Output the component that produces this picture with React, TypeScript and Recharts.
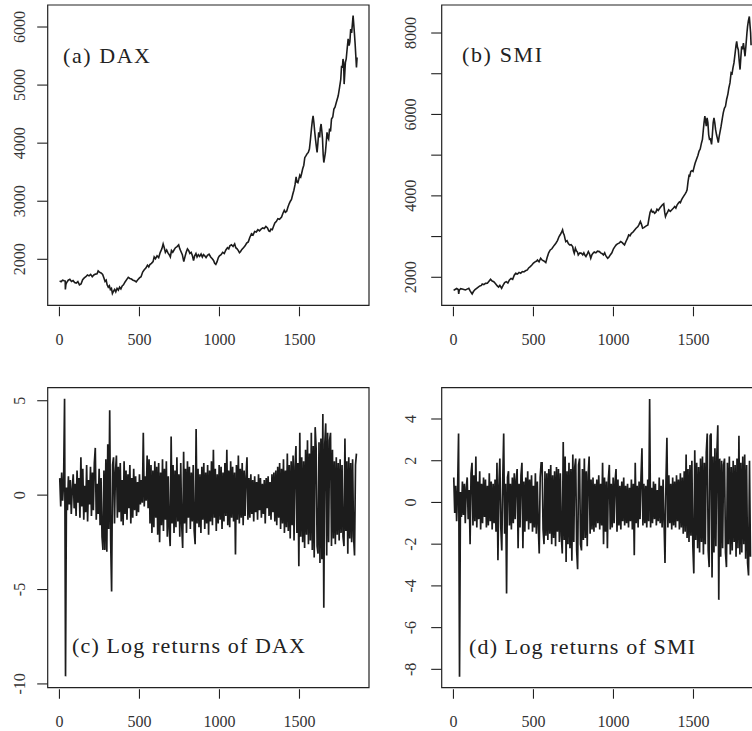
import React from 'react'
import { LineChart, Line, XAxis, YAxis, ReferenceArea } from 'recharts'

// tick values
const xTicks = [0, 500, 1000, 1500]
const daxPriceTicks = [2000, 3000, 4000, 5000, 6000]
const smiPriceTicks = [2000, 3000, 4000, 5000, 6000, 7000, 8000]
const smiPriceLabels = [2000, 4000, 6000, 8000]
const daxReturnTicks = [-10, -5, 0, 5]
const smiReturnTicks = [-8, -6, -4, -2, 0, 2, 4]

// [day index, index level]
const daxPrice: [number, number][] = [
  [1, 1628], [10, 1615], [20, 1640], [30, 1630], [36, 1625], [37, 1480], [40, 1560], [45, 1600], [55, 1640], [65, 1655],
  [75, 1620], [85, 1635], [95, 1600], [105, 1590], [115, 1615], [125, 1560], [135, 1575], [145, 1650], [155, 1680], [165, 1700],
  [175, 1730], [185, 1715], [195, 1740], [205, 1700], [215, 1730], [225, 1745], [235, 1750], [242, 1800], [250, 1780], [260, 1765],
  [270, 1740], [278, 1680], [285, 1620], [292, 1640], [298, 1560], [305, 1520], [312, 1545], [318, 1480], [325, 1500], [331, 1410],
  [338, 1450], [345, 1480], [352, 1440], [360, 1500], [368, 1470], [376, 1520], [384, 1490], [392, 1540], [400, 1560], [410, 1610],
  [420, 1650], [430, 1690], [440, 1670], [450, 1660], [460, 1640], [470, 1630], [480, 1610], [490, 1650], [500, 1680], [510, 1700],
  [520, 1780], [530, 1820], [540, 1850], [550, 1900], [558, 1870], [565, 1910], [575, 1930], [585, 1960], [592, 2040], [600, 2010],
  [610, 2060], [620, 2030], [630, 2120], [640, 2180], [648, 2265], [655, 2200], [662, 2120], [670, 2160], [678, 2110], [686, 2080],
  [693, 2040], [700, 2150], [708, 2120], [716, 2160], [725, 2200], [735, 2220], [745, 2250], [752, 2180], [760, 2130], [768, 2080],
  [777, 1960], [785, 2050], [792, 2120], [800, 2180], [808, 2150], [815, 2100], [823, 2120], [831, 2060], [838, 1980], [845, 2060],
  [853, 2100], [860, 2040], [868, 2080], [876, 2050], [885, 2090], [893, 2040], [900, 2080], [908, 2060], [916, 2030], [925, 2070],
  [935, 2090], [945, 2040], [955, 2010], [963, 1980], [970, 1930], [977, 1913], [985, 1960], [993, 2030], [1000, 2060], [1010, 2080],
  [1020, 2120], [1030, 2100], [1040, 2160], [1050, 2200], [1058, 2180], [1065, 2231], [1075, 2250], [1085, 2220], [1095, 2266], [1102, 2200],
  [1110, 2180], [1118, 2150], [1125, 2115], [1131, 2130], [1140, 2170], [1150, 2200], [1160, 2231], [1170, 2280], [1180, 2300], [1190, 2380],
  [1200, 2440], [1210, 2420], [1220, 2480], [1230, 2470], [1240, 2510], [1250, 2490], [1260, 2520], [1270, 2540], [1280, 2530], [1290, 2566],
  [1300, 2540], [1308, 2490], [1315, 2480], [1322, 2520], [1330, 2510], [1338, 2570], [1346, 2624], [1355, 2650], [1365, 2700], [1375, 2690],
  [1388, 2728], [1396, 2790], [1405, 2844], [1412, 2810], [1420, 2826], [1428, 2900], [1436, 2960], [1443, 3000], [1450, 3030], [1458, 3120],
  [1465, 3190], [1472, 3280], [1479, 3420], [1484, 3330], [1490, 3318], [1496, 3380], [1502, 3450], [1508, 3420], [1512, 3460], [1520, 3560],
  [1527, 3620], [1533, 3750], [1540, 3780], [1548, 3820], [1555, 3840], [1562, 3900], [1568, 4050], [1575, 4250], [1580, 4380], [1585, 4470],
  [1590, 4356], [1595, 4200], [1600, 4070], [1605, 3950], [1610, 3840], [1615, 4000], [1620, 4185], [1626, 4100], [1630, 4250], [1635, 4330],
  [1640, 4200], [1644, 4070], [1648, 3800], [1652, 3666], [1657, 3750], [1662, 3840], [1667, 4000], [1672, 4185], [1677, 4100], [1682, 4070],
  [1688, 4250], [1694, 4200], [1700, 4414], [1708, 4450], [1715, 4586], [1722, 4620], [1730, 4700], [1742, 4816], [1750, 4950], [1758, 5100],
  [1763, 5334], [1768, 5300], [1772, 5450], [1776, 5380], [1779, 5017], [1783, 5200], [1787, 5392], [1792, 5450], [1797, 5600], [1804, 5795],
  [1810, 5680], [1815, 5750], [1820, 5966], [1826, 5900], [1832, 6100], [1835, 6196], [1839, 6050], [1843, 5900], [1848, 5700], [1852, 5500],
  [1856, 5305], [1860, 5478],
]

const smiPrice: [number, number][] = [
  [1, 1678], [10, 1700], [20, 1725], [30, 1700], [33, 1590], [36, 1680], [45, 1720], [55, 1710], [65, 1700], [75, 1690],
  [85, 1710], [96, 1730], [105, 1660], [112, 1620], [117, 1590], [125, 1650], [135, 1700], [145, 1730], [155, 1760], [165, 1787],
  [175, 1800], [180, 1836], [190, 1820], [200, 1850], [212, 1852], [222, 1900], [232, 1950], [242, 1910], [252, 1893], [262, 1850],
  [274, 1787], [282, 1760], [290, 1800], [301, 1730], [310, 1800], [320, 1870], [330, 1893], [340, 1860], [350, 1934], [360, 1970],
  [370, 1950], [380, 2050], [389, 2098], [400, 2080], [410, 2120], [420, 2100], [430, 2140], [440, 2130], [450, 2160], [462, 2180],
  [470, 2230], [480, 2262], [490, 2300], [500, 2350], [510, 2380], [520, 2400], [525, 2426], [535, 2380], [545, 2467], [555, 2420],
  [565, 2400], [577, 2360], [585, 2480], [595, 2600], [605, 2672], [615, 2700], [625, 2760], [633, 2800], [640, 2836], [650, 2900],
  [660, 3000], [668, 3050], [675, 3100], [682, 3164], [687, 3080], [692, 3041], [697, 2950], [702, 2877], [710, 2900], [718, 2830],
  [726, 2795], [735, 2800], [745, 2754], [750, 2650], [755, 2590], [762, 2713], [768, 2650], [775, 2620], [780, 2549], [790, 2600],
  [800, 2590], [808, 2550], [815, 2600], [822, 2540], [828, 2508], [835, 2560], [843, 2631], [850, 2580], [858, 2467], [865, 2550],
  [872, 2590], [880, 2620], [890, 2600], [900, 2640], [912, 2631], [920, 2600], [930, 2580], [937, 2549], [945, 2600], [952, 2530],
  [958, 2500], [964, 2467], [972, 2500], [980, 2549], [990, 2600], [1000, 2700], [1010, 2760], [1017, 2795], [1025, 2820], [1035, 2840],
  [1045, 2877], [1055, 2850], [1062, 2820], [1069, 2795], [1078, 2880], [1088, 2960], [1095, 3041], [1103, 3020], [1112, 3082], [1120, 3100],
  [1130, 3150], [1140, 3200], [1153, 3246], [1160, 3300], [1168, 3369], [1175, 3300], [1182, 3205], [1190, 3220], [1200, 3250], [1208, 3270],
  [1215, 3287], [1222, 3450], [1229, 3600], [1236, 3656], [1243, 3600], [1250, 3615], [1257, 3574], [1265, 3600], [1272, 3673], [1280, 3640],
  [1290, 3700], [1300, 3750], [1306, 3780], [1314, 3804], [1320, 3600], [1325, 3492], [1332, 3560], [1338, 3600], [1345, 3656], [1355, 3620],
  [1365, 3660], [1375, 3700], [1383, 3738], [1390, 3700], [1398, 3780], [1405, 3820], [1412, 3850], [1418, 3830], [1425, 3902], [1432, 3950],
  [1440, 4000], [1448, 4050], [1455, 4100], [1460, 4148], [1466, 4350], [1472, 4500], [1477, 4490], [1483, 4600], [1490, 4620], [1497, 4600],
  [1503, 4694], [1510, 4800], [1519, 4898], [1528, 5000], [1535, 5102], [1542, 5150], [1550, 5300], [1556, 5388], [1561, 5600], [1566, 5800],
  [1571, 5959], [1575, 5850], [1580, 5714], [1585, 5918], [1590, 5800], [1595, 5500], [1600, 5388], [1606, 5400], [1613, 5265], [1618, 5500],
  [1623, 5796], [1628, 5918], [1633, 5800], [1638, 5633], [1644, 5500], [1650, 5400], [1655, 5306], [1660, 5450], [1665, 5551], [1672, 5700],
  [1680, 5900], [1686, 6040], [1693, 6150], [1700, 6200], [1707, 6367], [1715, 6500], [1721, 6650], [1728, 6775], [1735, 7020], [1741, 7000],
  [1747, 7150], [1753, 7265], [1760, 7500], [1766, 7700], [1770, 7795], [1775, 7650], [1780, 7591], [1786, 7300], [1791, 7102], [1796, 7400],
  [1801, 7673], [1806, 7600], [1812, 7754], [1817, 7600], [1822, 7428], [1828, 7700], [1834, 8000], [1838, 8162], [1843, 8300], [1849, 8407],
  [1853, 8200], [1857, 8000], [1860, 7700],
]

// log returns (%), one reading every returnStep days starting at day 2
const returnStep = 6
const daxReturns = [
  0.9, -0.6, 1.2, -0.3, 0.7, 5.1, -9.6, 0.4, -0.8, 1.0,
  -0.5, 0.8, -1.0, 0.3, 1.1, -0.7, 0.6, -1.1, 1.3, -0.4,
  0.9, -1.2, 2.0, -0.6, 1.4, -1.3, 0.5, -0.9, 1.6, -1.4,
  0.8, -0.5, 1.5, -1.1, 1.2, -0.8, 1.7, 2.5, -1.3, 0.6,
  -1.0, 1.4, -1.6, 0.9, -2.2, -2.9, 1.3, -2.9, 1.9, -3.0,
  2.7, -1.8, 4.5, -2.4, -5.1, 1.6, 2.0, -1.5, 1.2, 2.1,
  -1.2, 1.5, -0.9, 1.7, -1.4, 0.8, -1.6, 1.8, -1.0, 1.3,
  -1.3, 1.1, -0.7, 1.6, -1.5, 0.9, -1.2, 1.4, -0.8, 1.0,
  -1.1, 0.7, -0.9, 1.1, -0.5, 0.8, -0.4, 3.3, -0.6, 1.0,
  -0.3, 2.1, -0.7, 1.9, -1.5, 1.6, -2.0, 1.3, -1.7, 1.8,
  -1.2, 1.5, -2.1, 1.7, -2.5, 1.2, -1.6, 1.9, -1.9, 1.4,
  -1.3, 1.8, -2.2, 1.0, -1.8, -2.7, 3.1, -1.5, 1.6, -2.0,
  1.3, -1.7, 2.0, -1.4, 1.1, -2.2, 1.7, -1.6, -2.8, 2.3,
  -1.5, 1.4, -2.0, 1.8, -1.2, 1.5, -1.8, 1.2, -1.4, 1.6,
  -1.9, -2.6, 3.5, -1.5, 1.4, -1.7, 1.1, -2.0, 1.5, -1.3,
  1.7, -1.8, 1.2, -1.5, 1.6, -2.1, 1.3, -1.4, 1.8, -1.6,
  2.4, -1.2, 1.4, -1.9, 1.1, -1.5, 1.6, -1.3, 1.5, -1.8,
  1.2, -1.4, 1.7, -1.1, 2.4, -1.6, 1.3, -1.7, 1.8, -1.2,
  1.5, -1.4, 1.2, -3.15, 1.6, -1.3, 2.1, -1.5, 1.4, -1.2,
  1.7, -1.6, 1.3, -1.1, 1.0, 2.0, -1.3, 0.9, -1.2, 1.1,
  -1.0, 0.8, -1.4, 1.0, -0.9, 0.7, -1.3, 1.1, -0.8, 0.9,
  -1.2, 0.6, -1.0, 0.8, -1.5, 0.9, -0.7, 1.0, -1.1, 0.7,
  -1.3, 1.1, -0.9, 1.2, -1.4, 1.3, -1.6, 1.5, -1.2, 1.7,
  -1.8, 1.4, -1.5, 1.9, -2.0, 1.3, -1.7, 2.2, -1.9, 1.6,
  -2.3, 1.8, -1.6, 2.1, -2.4, 1.5, 2.6, -2.0, 1.7, -3.77,
  3.3, -2.2, 2.0, -2.5, 1.8, -2.8, 2.4, -2.1, 2.9, -2.6,
  2.2, -2.4, 3.3, -2.9, 2.6, -3.3, 3.6, 2.5, -2.7, -3.1,
  2.8, -3.6, 3.0, -3.4, 4.3, -5.97, 2.7, 3.8, -3.2, 3.3,
  -2.5, 2.9, 3.3, -2.7, 2.4, -2.3, 1.8, -2.6, 2.0, -2.1,
  1.7, -2.4, 1.9, -2.0, 1.6, -2.2, -2.7, 3.0, -1.9, 1.8,
  -3.1, 2.0, -2.3, 1.7, -2.5, 1.9, -2.2, -3.2, 1.6, 2.2,
]

const smiReturns = [
  1.2, -0.5, 0.8, -0.9, 0.6, 3.3, -8.35, 0.5, -0.7, 1.0,
  -0.6, 0.9, -1.0, 0.7, 1.2, -0.8, 0.6, -2.0, 1.4, 1.9,
  -1.1, 1.3, -0.9, 2.2, -1.2, 1.0, -0.8, 1.5, -1.3, 0.9,
  -1.0, 1.2, -0.7, 1.1, -1.2, 0.8, -1.1, 1.4, -0.9, 1.0,
  -1.3, 0.9, -1.0, 1.1, -1.4, 1.9, -2.77, 0.8, 2.1, -1.2,
  -2.3, 1.0, 3.3, -1.5, 0.9, -4.37, 1.2, 1.5, -1.1, 0.9,
  -1.3, 1.2, -1.0, 1.4, -0.8, 1.1, 1.6, -2.2, 0.9, -1.2,
  1.3, 1.9, -2.2, 1.0, -1.4, 1.2, -0.9, 1.5, -1.3, 1.1,
  -1.0, 1.3, -1.4, 0.8, -1.2, 1.4, -1.5, 1.0, -1.1, -2.45,
  1.2, 1.9, 1.9, -1.3, -2.0, 1.5, -1.6, 1.4, -1.8, 1.6,
  -1.5, 1.8, -2.0, 1.3, -1.7, 1.5, -2.1, 1.7, -1.4, 1.6,
  -1.9, 1.4, -1.6, -2.45, 2.9, -1.8, 2.2, -2.85, 1.5, -2.0,
  1.9, -2.2, 1.6, -2.8, 2.3, -1.9, 1.7, 2.1, -2.3, -3.2,
  1.8, 2.1, -2.0, -2.3, 1.6, -1.8, 2.1, -1.7, 1.5, -2.1,
  1.3, 2.2, -1.5, 1.1, -1.3, 1.2, -1.4, 0.9, -1.2, 1.1,
  -1.0, 1.3, -1.3, 0.9, -1.1, 1.9, -2.0, 1.2, -1.4, 1.0,
  -2.2, 1.1, 1.8, -1.3, 0.9, -1.2, 1.2, -1.0, 1.0, 1.6,
  -1.4, 1.1, -1.1, 0.8, -1.3, 1.0, -0.9, 1.2, -1.1, 0.8,
  -1.0, 0.9, -1.2, 0.7, -0.9, 1.1, -1.3, 0.9, -2.53, 1.9,
  -1.0, 0.8, -1.2, 1.0, -0.8, 1.2, 2.6, -1.1, 0.9, -1.0,
  0.8, -1.2, 1.1, -0.9, 4.96, -1.2, 0.7, -1.0, 1.0, -0.8,
  0.9, -1.1, 0.6, -0.9, 1.2, -1.0, 0.8, -1.2, 1.1, -0.9,
  -2.9, 1.0, 3.1, -1.2, 1.3, -1.0, 0.9, -1.3, 1.2, -1.1,
  1.0, -1.2, 1.3, -0.9, 1.1, -1.3, 1.4, -1.2, 1.2, -1.5,
  1.5, -1.4, 2.3, -1.7, 1.6, -1.9, 1.8, -1.6, 2.0, -2.1,
  -3.4, 2.5, -1.8, 1.9, -2.2, 1.7, -2.4, 2.1, -1.9, 2.2,
  -2.5, 1.9, -2.0, 2.4, 3.3, -2.3, -3.1, 3.2, 3.3, -3.6,
  2.2, -2.4, 2.6, -2.1, 2.3, 3.7, -4.67, 2.1, -2.6, 2.0,
  -2.2, 1.8, 2.1, -2.4, -3.1, 1.9, -2.0, 2.2, -2.5, 1.7,
  -2.3, 2.0, -1.9, 1.8, -2.6, 2.1, -2.2, 3.2, -2.5, 1.9,
  -2.4, 2.2, -2.0, 2.3, -2.7, 1.8, -2.9, -3.5, 2.0, -2.6,
]

const W = 780
const H = 731
const ink = '#222'
const font = 'Liberation Serif, Times New Roman, serif'
const xDomain: [number, number] = [-73.4, 1934.4]

const pricesToRows = (pts: [number, number][]) => pts.map(([x, v]) => ({ x, v }))
const returnsToRows = (vals: number[]) => vals.map((v, i) => ({ x: 2 + i * returnStep, v }))

// eslint-disable-next-line @typescript-eslint/no-explicit-any
function XTick({ x, y, payload }: any) {
  return (
    <g>
      <line x1={x} x2={x} y1={y + 1.5} y2={y + 11} stroke={ink} strokeWidth={1.1} />
      <text x={x} y={y + 34} textAnchor="middle" dominantBaseline="central" style={{ fontFamily: font, fontSize: 16 }} fill="#333">
        {payload.value}
      </text>
    </g>
  )
}

// eslint-disable-next-line @typescript-eslint/no-explicit-any
function YTick({ x, y, payload, labels, offset }: any) {
  const show = !labels || labels.includes(payload.value)
  return (
    <g>
      <line x1={x - 10.5} x2={x} y1={y} y2={y} stroke={ink} strokeWidth={1.1} />
      {show && (
        <text
          transform={`translate(${x - offset},${y}) rotate(-90)`}
          textAnchor="middle"
          dominantBaseline="central"
          style={{ fontFamily: font, fontSize: 16 }}
          fill="#333"
        >
          {payload.value}
        </text>
      )}
    </g>
  )
}

interface PanelProps {
  box: { left: number; top: number; right: number; bottom: number }
  yDomain: [number, number]
  yTicks: number[]
  yLabels?: number[]
  yOffset: number
  rows: { x: number; v: number }[]
  width: number
}

function Panel({ box, yDomain, yTicks, yLabels, yOffset, rows, width }: PanelProps) {
  return (
    <div style={{ position: 'absolute', left: 0, top: 0 }}>
      <LineChart
        width={W}
        height={H}
        data={rows}
        margin={{ top: box.top, left: box.left - 30, right: W - box.right, bottom: H - box.bottom - 30 }}
      >
        <XAxis
          type="number"
          dataKey="x"
          domain={xDomain}
          ticks={xTicks}
          interval={0}
          allowDataOverflow
          height={30}
          axisLine={false}
          tickLine={false}
          tickSize={0}
          tickMargin={0}
          tick={<XTick />}
        />
        <YAxis
          type="number"
          domain={yDomain}
          ticks={yTicks}
          interval={0}
          allowDataOverflow
          width={30}
          axisLine={false}
          tickLine={false}
          tickSize={0}
          tickMargin={0}
          tick={<YTick labels={yLabels} offset={yOffset} />}
        />
        <ReferenceArea
          x1={xDomain[0]}
          x2={xDomain[1]}
          y1={yDomain[0]}
          y2={yDomain[1]}
          fill="none"
          stroke={ink}
          strokeWidth={1.2}
        />
        <Line
          dataKey="v"
          type="linear"
          dot={false}
          stroke="#1c1c1c"
          strokeWidth={width}
          strokeLinejoin="miter"
          isAnimationActive={false}
        />
      </LineChart>
    </div>
  )
}

export default function App() {
  return (
    <div style={{ position: 'absolute', left: 0, top: 0, width: 752, height: 731, overflow: 'hidden', background: '#fff' }}>
      <Panel
        box={{ left: 47.7, top: 5, right: 369, bottom: 305.3 }}
        yDomain={[1208, 6379]}
        yTicks={daxPriceTicks}
        yOffset={28.5}
        rows={pricesToRows(daxPrice)}
        width={1.6}
      />
      <Panel
        box={{ left: 441.7, top: 5, right: 763, bottom: 305.3 }}
        yDomain={[1312, 8688]}
        yTicks={smiPriceTicks}
        yLabels={smiPriceLabels}
        yOffset={31.5}
        rows={pricesToRows(smiPrice)}
        width={1.6}
      />
      <Panel
        box={{ left: 47.7, top: 387.7, right: 369, bottom: 687.7 }}
        yDomain={[-10.2, 5.69]}
        yTicks={daxReturnTicks}
        yOffset={28.5}
        rows={returnsToRows(daxReturns)}
        width={1.7}
      />
      <Panel
        box={{ left: 441.7, top: 387.7, right: 763, bottom: 687.7 }}
        yDomain={[-8.88, 5.5]}
        yTicks={smiReturnTicks}
        yOffset={31.5}
        rows={returnsToRows(smiReturns)}
        width={1.7}
      />
      <svg width={752} height={731} style={{ position: 'absolute', left: 0, top: 0, pointerEvents: 'none' }}>
        <g style={{ fontFamily: font, fontSize: 22 }} fill="#222">
          <text x={63} y={62.7} textLength={87} lengthAdjust="spacing">(a) DAX</text>
          <text x={462} y={61.7} textLength={80} lengthAdjust="spacing">(b) SMI</text>
          <text x={72} y={652.7} textLength={233} lengthAdjust="spacing">(c) Log returns of DAX</text>
          <text x={469} y={654} textLength={226} lengthAdjust="spacing">(d) Log returns of SMI</text>
        </g>
      </svg>
    </div>
  )
}
